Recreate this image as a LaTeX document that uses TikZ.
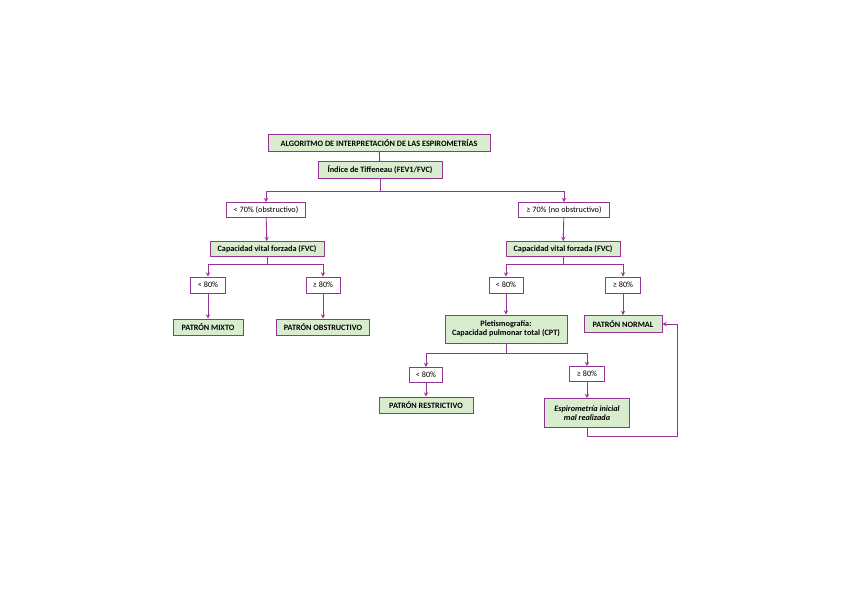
\documentclass[tikz,border=0pt]{standalone}
\usepackage{fontspec}
\setmainfont{Carlito}
\definecolor{violeta}{RGB}{150,50,150}
\definecolor{verde}{RGB}{216,236,206}
\tikzset{
  caja/.style={draw=violeta, line width=0.9pt, inner sep=1pt, align=center,
    font=\fontsize{8.2}{9}\selectfont\bfseries},
  verdecaja/.style={caja, fill=verde},
  blancacaja/.style={caja, fill=white, font=\fontsize{8.2}{9}\selectfont},
  linea/.style={draw=violeta, line width=0.9pt},
  flecha/.style={linea, -stealth}
}
\begin{document}
\begin{tikzpicture}[x=1pt,y=-1pt]
  % Marco de la figura
  \useasboundingbox (0,0) rectangle (848,599);
  % Cabecera
  \node[verdecaja, minimum width=222, minimum height=17] (titulo) at (379,143)
    {ALGORITMO DE INTERPRETACIÓN DE LAS ESPIROMETRÍAS};
  \node[verdecaja, minimum width=124, minimum height=17] (tiff) at (380,170)
    {Índice de Tiffeneau (FEV1/FVC)};
  % Primer nivel
  \node[blancacaja, minimum width=79, minimum height=15] (obs) at (266,210) {< 70\% (obstructivo)};
  \node[blancacaja, minimum width=91, minimum height=15] (noobs) at (564,210) {≥ 70\% (no obstructivo)};
  \node[verdecaja, minimum width=114, minimum height=15] (fvcI) at (267,249) {Capacidad vital forzada (FVC)};
  \node[verdecaja, minimum width=114, minimum height=15] (fvcD) at (563,249) {Capacidad vital forzada (FVC)};
  % Rama obstructiva
  \node[blancacaja, minimum width=35, minimum height=16] (menorA) at (208,285) {< 80\%};
  \node[blancacaja, minimum width=34, minimum height=16] (mayorA) at (323,285) {≥ 80\%};
  \node[verdecaja, minimum width=70, minimum height=16] (mixto) at (208,327) {PATRÓN MIXTO};
  \node[verdecaja, minimum width=93, minimum height=16] (obstr) at (323,327) {PATRÓN OBSTRUCTIVO};
  % Rama no obstructiva
  \node[blancacaja, minimum width=34, minimum height=16] (menorB) at (506,285) {< 80\%};
  \node[blancacaja, minimum width=35, minimum height=16] (mayorB) at (623,285) {≥ 80\%};
  \node[verdecaja, minimum width=122, minimum height=28] (pletis) at (506,329)
    {Pletismografía:\\Capacidad pulmonar total (CPT)};
  \node[verdecaja, minimum width=78, minimum height=17] (normal) at (623,324) {PATRÓN NORMAL};
  \node[blancacaja, minimum width=33, minimum height=15] (menorC) at (426,375) {< 80\%};
  \node[blancacaja, minimum width=35, minimum height=15] (mayorC) at (587,374) {≥ 80\%};
  \node[verdecaja, minimum width=94, minimum height=16] (restr) at (426,405) {PATRÓN RESTRICTIVO};
  \node[verdecaja, minimum width=85, minimum height=29, font=\fontsize{8.2}{9.4}\selectfont\bfseries\itshape] (espiro) at (587,413)
    {Espirometría inicial\\mal realizada};
  % Conexiones
  \draw[linea] (titulo) -- (tiff);
  \draw[linea] (tiff.south) -- ++(0,12) coordinate (c1);
  \draw[flecha] (c1) -| (obs.north);
  \draw[flecha] (c1) -| (noobs.north);
  \draw[flecha] (obs) -- (fvcI);
  \draw[flecha] (noobs) -- (fvcD);
  \draw[linea] (fvcI.south) -- ++(0,7) coordinate (c2);
  \draw[flecha] (c2) -| (menorA.north);
  \draw[flecha] (c2) -| (mayorA.north);
  \draw[flecha] (menorA) -- (mixto);
  \draw[flecha] (mayorA) -- (obstr);
  \draw[linea] (fvcD.south) -- ++(0,7) coordinate (c3);
  \draw[flecha] (c3) -| (menorB.north);
  \draw[flecha] (c3) -| (mayorB.north);
  \draw[flecha] (menorB) -- (pletis);
  \draw[flecha] (mayorB) -- (normal);
  \draw[linea] (pletis.south) -- ++(0,10) coordinate (c4);
  \draw[flecha] (c4) -| (menorC.north);
  \draw[flecha] (c4) -| (mayorC.north);
  \draw[flecha] (menorC) -- (restr);
  \draw[flecha] (mayorC) -- (espiro);
  % Vuelta al patrón normal
  \coordinate (v1) at (677,436);
  \draw[flecha] (espiro.south) |- (v1) |- (normal.east);
\end{tikzpicture}
\end{document}
